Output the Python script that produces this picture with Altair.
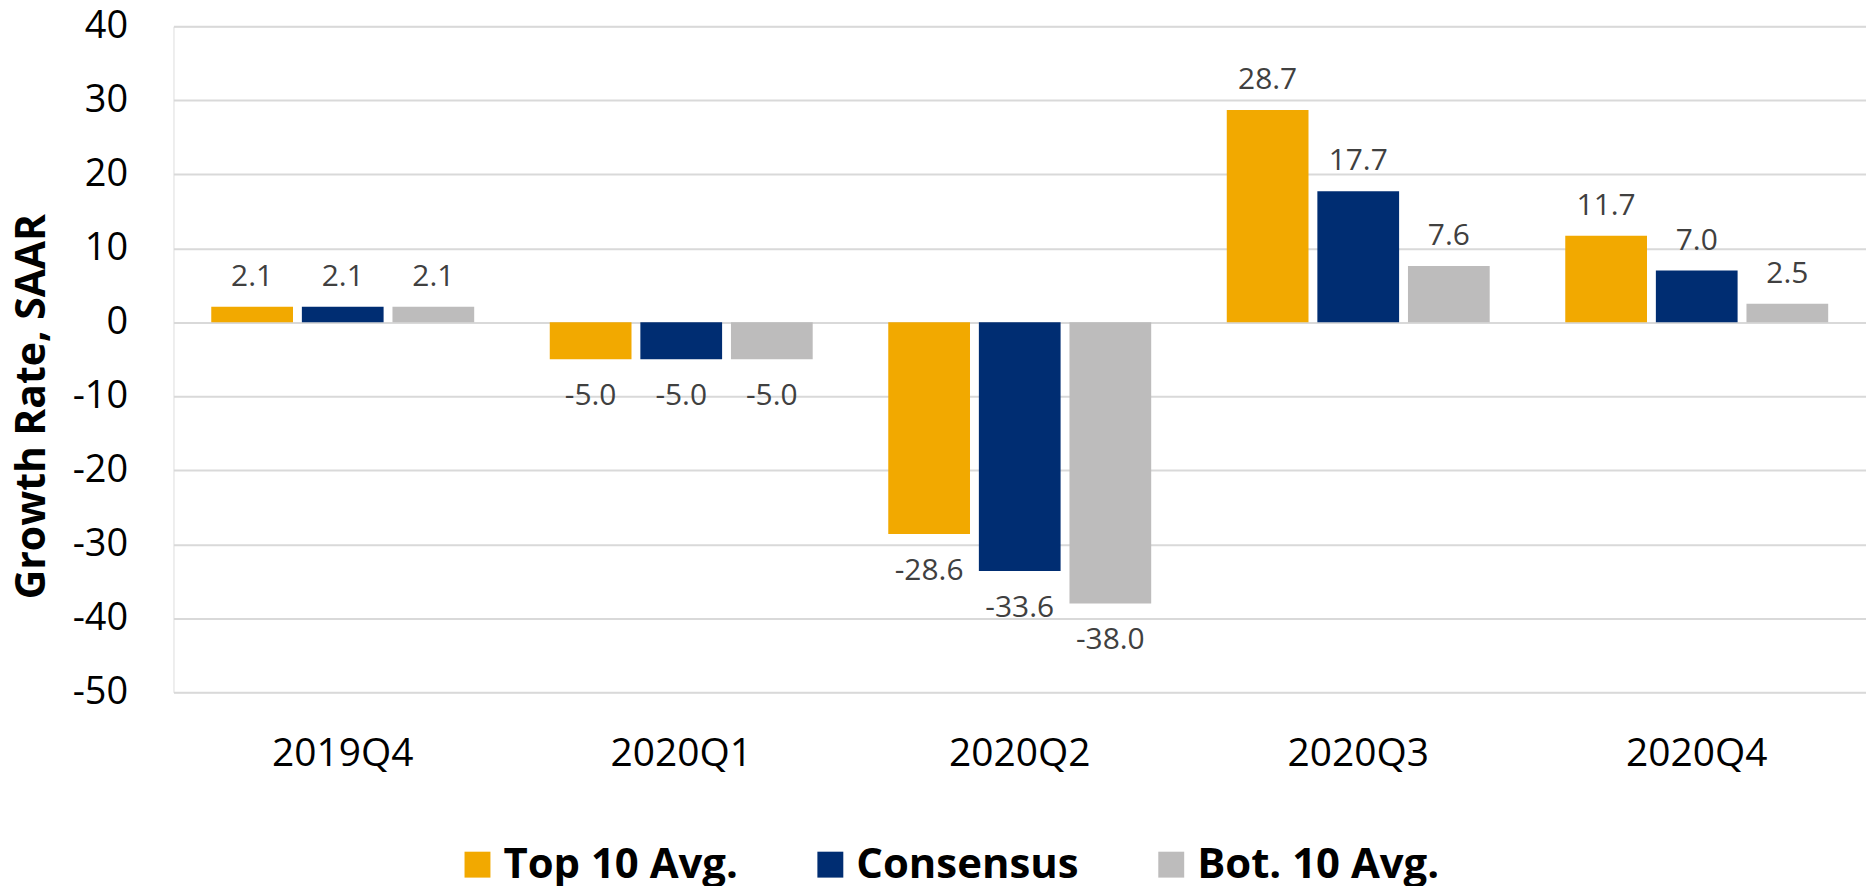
import altair as alt
import pandas as pd

quarters = ["2019Q4", "2020Q1", "2020Q2", "2020Q3", "2020Q4"]
series = ["Top 10 Avg.", "Consensus", "Bot. 10 Avg."]
top10 = [2.1, -5.0, -28.6, 28.7, 11.7]
consensus = [2.1, -5.0, -33.6, 17.7, 7.0]
bot10 = [2.1, -5.0, -38.0, 7.6, 2.5]
colors = ["#F2A900", "#002D72", "#BDBCBC"]
y_ticks = [-50, -40, -30, -20, -10, 0, 10, 20, 30, 40]

rows = []
for name, vals in zip(series, [top10, consensus, bot10]):
    for q, v in zip(quarters, vals):
        rows.append({"Quarter": q, "Series": name, "Value": v})
df = pd.DataFrame(rows)

FONT = "Open Sans"

x_enc = alt.X(
    "Quarter:N",
    sort=quarters,
    scale=alt.Scale(paddingInner=0.2235, paddingOuter=0.1118),
    axis=alt.Axis(
        title=None, labelAngle=0, domain=False, ticks=False, tickSize=0,
        labelFontSize=39, labelFont=FONT, labelColor="#000000",
        labelBaseline="middle", labelPadding=62,
    ),
)
xoff_enc = alt.XOffset(
    "Series:N", sort=series,
    scale=alt.Scale(paddingInner=0.0989, paddingOuter=0),
)
y_enc = alt.Y(
    "Value:Q",
    scale=alt.Scale(domain=[-50, 40], nice=False, zero=False),
    axis=alt.Axis(
        title="Growth Rate, SAAR", values=y_ticks, format="d",
        labelExpr="replace(datum.label, '\u2212', '-')",
        domain=False, ticks=False, tickSize=0,
        labelFontSize=38, labelFont=FONT, labelColor="#000000", labelPadding=46,
        grid=True, gridColor="#D9D9D9", gridWidth=2,
        titleFontSize=41, titleFont=FONT, titleFontWeight="bold", titleColor="#000000",
        titleAngle=270, titleAlign="center", titleBaseline="middle",
        titleX=-141, titleY=381,
    ),
)

bars = alt.Chart(df).mark_bar(size=82).encode(
    x=x_enc,
    xOffset=xoff_enc,
    y=y_enc,
    color=alt.Color(
        "Series:N", sort=series,
        scale=alt.Scale(domain=series, range=colors),
        legend=alt.Legend(
            title=None, orient="none", direction="horizontal",
            legendX=284, legendY=820, padding=0,
            symbolType="square", symbolSize=676, symbolStrokeWidth=0,
            labelFontSize=42, labelFont=FONT, labelFontWeight="bold",
            labelColor="#000000", labelOffset=5, columnPadding=71,
            labelLimit=0,
        ),
    ),
)

def labels(filter_expr, dy):
    return alt.Chart(df).transform_filter(filter_expr).transform_calculate(
        Label="replace(format(datum.Value, '.1f'), '\u2212', '-')"
    ).mark_text(
        font=FONT, fontSize=30, color="#404040", baseline="middle", align="center", dy=dy
    ).encode(
        x=alt.X("Quarter:N", sort=quarters),
        xOffset=alt.XOffset("Series:N", sort=series),
        y=alt.Y("Value:Q"),
        text=alt.Text("Label:N"),
    )

pos_labels = labels("datum.Value >= 0", -30)
neg_labels = labels("datum.Value < 0", 37)

chart = alt.layer(bars, pos_labels, neg_labels).properties(
    width=1698,
    height=668,
    autosize=alt.AutoSizeParams(type="none"),
    padding={"left": 166, "top": 17, "right": 0, "bottom": 193},
).configure_view(stroke=None).configure(background="white")

chart.save("out.html", embed_options={"renderer": "svg", "actions": False})
